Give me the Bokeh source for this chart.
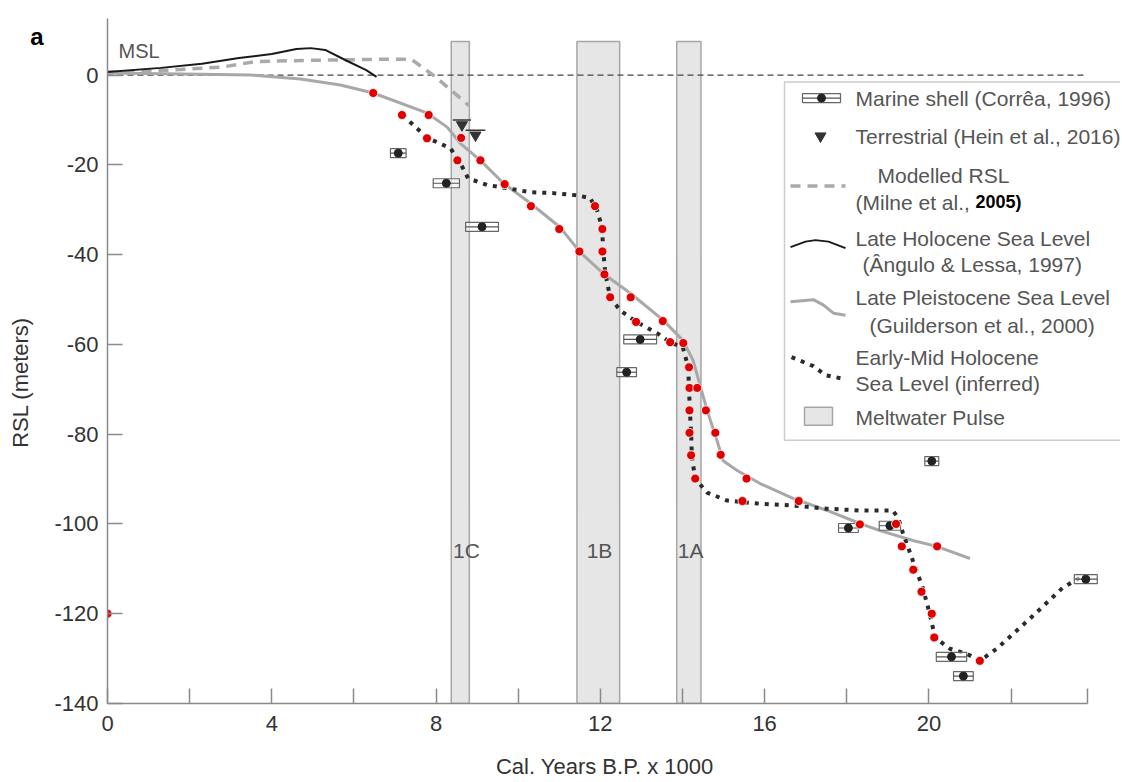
import math
from bokeh.plotting import figure
from bokeh.models import (Range1d, FixedTicker, Label, BoxAnnotation, CustomJSTickFormatter,
                          LinearAxis)
from bokeh.embed import file_html
from bokeh.resources import INLINE
from bokeh.core.properties import value

FONT = "Liberation Sans"
NBSP = "\u00a0"

# ---------------- data ----------------
x_ticks = [0, 4, 8, 12, 16, 20]
x_minor_ticks = [2, 6, 10, 14, 18, 22, 23.86]
y_ticks = [-140, -120, -100, -80, -60, -40, -20, 0]
X_AXIS_END = 23.86

pulse_names = ["1C", "1B", "1A"]
pulse_start = [8.37, 11.43, 13.86]
pulse_end = [8.81, 12.47, 14.45]
pulse_top = [7.5, 7.5, 7.5]
pulse_label_x = [8.74, 11.98, 14.2]
pulse_label_y = [-105.9, -105.9, -105.9]

late_holocene_x = [0.0, 1.3, 2.3, 3.2, 4.0, 4.6, 4.95, 5.3, 5.8, 6.3, 6.55]
late_holocene_y = [0.7, 1.6, 2.5, 3.8, 4.7, 5.8, 6.0, 5.6, 3.3, 1.1, -0.4]

modelled_x = [0.0, 1.5, 2.8, 3.6, 5.0, 6.5, 7.4, 8.0, 8.8]
modelled_y = [0.6, 1.1, 1.8, 3.0, 3.3, 3.5, 3.5, -0.5, -6.8]

pleist_x = [0.0, 2.26, 3.48, 4.70, 5.67, 6.47, 7.79, 8.27, 8.59, 9.08, 9.64, 10.29,
            11.02, 11.51, 12.07, 12.73, 13.53, 14.01, 14.26, 14.60, 14.84, 14.99,
            15.33, 15.89, 16.69, 17.52, 18.32, 18.81, 19.61, 20.19, 21.0]
pleist_y = [0.45, 0.2, 0.0, -0.9, -2.2, -4.0, -8.5, -11.6, -15.2, -19.0, -24.1, -28.5,
            -33.9, -39.5, -44.2, -48.6, -54.6, -59.1, -63.6, -74.7, -81.4, -85.9,
            -88.1, -91.0, -94.3, -97.0, -99.9, -101.5, -103.7, -105.0, -107.7]

inferred_x = [7.18, 7.79, 8.35, 8.59, 8.78, 9.25, 9.73, 10.29, 10.85, 11.44, 11.75,
              11.92, 12.04, 12.07, 12.12, 12.24, 12.48, 12.90, 13.38, 13.70, 14.01,
              14.14, 14.16, 14.18, 14.21, 14.23, 14.31, 14.60, 15.09, 15.89, 16.69,
              17.52, 18.32, 19.12, 19.25, 19.37, 19.61, 19.85, 20.02, 20.15, 20.51,
              20.92, 21.24, 21.65, 22.46, 23.26, 23.67]
inferred_y = [-8.9, -14.0, -16.3, -19.6, -23.0, -24.5, -25.2, -26.1, -26.3, -26.8, -27.4,
              -30.1, -33.9, -39.0, -44.2, -49.5, -52.4, -55.1, -57.5, -59.5, -60.7,
              -65.1, -70.2, -74.7, -79.8, -85.2, -89.9, -93.0, -94.8, -95.5, -95.9,
              -96.6, -97.0, -97.0, -98.6, -102.1, -108.2, -114.2, -120.0, -125.3, -127.8,
              -128.9, -130.5, -127.8, -121.1, -114.2, -112.0]

red_x = [0.0, 6.47, 7.17, 7.82, 7.78, 8.61, 8.52, 9.08, 9.67, 10.31, 11.00, 11.49,
         11.87, 12.05, 12.05, 12.10, 12.24, 12.74, 12.87, 13.52, 13.70, 14.02, 14.16,
         14.17, 14.36, 14.17, 14.57, 14.17, 14.80, 14.21, 14.93, 14.31, 15.56, 15.46,
         16.83, 18.32, 19.20, 20.20, 19.34, 19.62, 19.82, 20.07, 20.13, 21.24]
red_y = [-120.0, -4.0, -8.9, -8.9, -14.1, -14.0, -19.0, -19.0, -24.3, -29.2, -34.3, -39.3,
         -29.2, -34.3, -39.3, -44.4, -49.5, -49.5, -55.0, -54.8, -59.5, -59.7, -65.1,
         -69.7, -69.7, -74.7, -74.7, -79.7, -79.7, -84.7, -84.6, -89.9, -89.9, -94.9,
         -94.9, -100.1, -100.0, -105.0, -105.0, -110.2, -115.1, -120.0, -125.3, -130.5]

shell_x = [7.08, 8.25, 9.12, 12.97, 12.64, 18.04, 19.05, 20.07, 20.55, 20.84, 23.82]
shell_y = [-17.4, -24.1, -33.8, -58.9, -66.2, -100.9, -100.4, -86.0, -129.6, -133.9, -112.3]
shell_err = [0.19, 0.32, 0.40, 0.40, 0.24, 0.24, 0.26, 0.17, 0.37, 0.24, 0.28]

terr_x = [8.63, 8.96]
terr_y = [-11.1, -13.4]
terr_err = [0.22, 0.24]

legend_labels = ["Marine shell (Corrêa, 1996)", "Terrestrial (Hein et al., 2016)",
                 "Modelled RSL", "(Milne et al.,", "2005)",
                 "Late Holocene Sea Level", "(Ângulo & Lessa, 1997)",
                 "Late Pleistocene Sea Level", "(Guilderson et al., 2000)",
                 "Early-Mid Holocene", "Sea Level (inferred)", "Meltwater Pulse"]

# ---------------- layout helpers (page px -> data, for annotations only) ----------------
SX, SY = 41.07, 4.487
def dx(px):
    return (px - 107.0) / SX
def dy(py):
    return (75.0 - py) / SY

W, H = 1120, 782
p = figure(width=W, height=H, output_backend="svg", toolbar_location=None,
           x_range=Range1d(0, (W - 107) / SX), y_range=Range1d(-140, 12.6),
           min_border_left=107, min_border_right=0, min_border_top=18, min_border_bottom=79)
p.outline_line_color = None
p.grid.visible = False
p.background_fill_color = "white"
p.border_fill_color = "white"

fmt = CustomJSTickFormatter(code="return String(tick);")
for ax in (p.xaxis[0], p.yaxis[0]):
    ax.axis_line_color = "#8a8a8a"
    ax.axis_line_width = 1.5
    ax.major_tick_line_color = "#8a8a8a"
    ax.major_tick_line_width = 1.5
    ax.major_tick_in = 15
    ax.major_tick_out = 0
    ax.major_label_text_font = FONT
    ax.major_label_text_font_size = "22px"
    ax.major_label_text_color = "#333333"
    ax.formatter = fmt
    ax.axis_label_text_font = FONT
    ax.axis_label_text_font_size = "22px"
    ax.axis_label_text_font_style = "normal"
    ax.axis_label_text_color = "#333333"

p.xaxis.ticker = FixedTicker(ticks=x_ticks, minor_ticks=x_minor_ticks)
p.xaxis.bounds = (0, X_AXIS_END)
p.xaxis.minor_tick_line_color = "#8a8a8a"
p.xaxis.minor_tick_line_width = 1.5
p.xaxis.minor_tick_in = 15
p.xaxis.minor_tick_out = 0
p.xaxis.major_label_standoff = 12
p.xaxis.axis_label = "Cal. Years B.P. x 1000" + NBSP * 3
p.xaxis.axis_label_standoff = 20
p.yaxis.ticker = FixedTicker(ticks=y_ticks)
p.yaxis.minor_tick_line_color = None
p.yaxis.major_label_standoff = 9
p.yaxis.axis_label = "RSL (meters)" + NBSP * 7
p.yaxis.axis_label_standoff = 18

# panel label "a" as an extra, bare axis on the left
a_axis = LinearAxis(ticker=FixedTicker(ticks=[8.6]),
                    formatter=CustomJSTickFormatter(code="return 'a';"),
                    axis_line_color=None, major_tick_line_color=None, minor_tick_line_color=None,
                    major_label_text_font=FONT, major_label_text_font_size="24px",
                    major_label_text_font_style="bold", major_label_text_color="#000000",
                    major_label_standoff=-44)
p.add_layout(a_axis, "left")

# meltwater pulse bands
p.quad(left=pulse_start, right=pulse_end, top=pulse_top, bottom=[-140] * len(pulse_start),
       fill_color="#e6e6e6", line_color="#a6a6a6", line_width=1.5)
p.text(x=pulse_label_x, y=pulse_label_y, text=pulse_names, text_font=value(FONT),
       text_font_size="21px", text_color="#555555", text_align="center", text_baseline="middle")

# MSL
p.line(x=[0, X_AXIS_END], y=[0, 0], line_color="#444444", line_dash="6 4", line_width=1.3)

# curves
p.line(pleist_x, pleist_y, line_color="#a8a8a8", line_width=3)
p.line(modelled_x, modelled_y, line_color="#aaaaaa", line_width=3.5, line_dash="10 7")
p.line(late_holocene_x, late_holocene_y, line_color="#1a1a1a", line_width=2)
p.line(inferred_x, inferred_y, line_color="#2b2b2b", line_width=4, line_dash="4 6")

# marine shells
p.rect(x=shell_x, y=shell_y, width=[2 * e for e in shell_err], height=9, height_units="screen",
       fill_color="white", fill_alpha=0.6, line_color="#666666", line_width=1.2)
p.segment(x0=[x - e for x, e in zip(shell_x, shell_err)], y0=shell_y,
          x1=[x + e for x, e in zip(shell_x, shell_err)], y1=shell_y,
          line_color="#555555", line_width=1.2)
p.scatter(shell_x, shell_y, size=8, color="#222222")

# terrestrial
bar_off = 5 / SY
p.segment(x0=[x - e for x, e in zip(terr_x, terr_err)], y0=[y + bar_off for y in terr_y],
          x1=[x + e for x, e in zip(terr_x, terr_err)], y1=[y + bar_off for y in terr_y],
          line_color="#333333", line_width=1.5)
p.scatter(terr_x, terr_y, marker="inverted_triangle", size=11, color="#333333")

# red points
p.scatter(red_x, red_y, size=9, fill_color="#e00000", line_color="white", line_width=0.8)

# ---------------- legend (manual) ----------------
box = BoxAnnotation(left=dx(784), right=30, top=dy(82), bottom=dy(440),
                    fill_color="white", fill_alpha=1.0, line_color="#555555", line_width=1.5)
p.add_layout(box)

def ov(r):
    r.level = "overlay"
    return r

cx, hw = 821, 19
ov(p.rect(x=[dx(cx)], y=[dy(98)], width=[2 * hw / SX], height=9, height_units="screen",
          fill_color="white", line_color="#666666", line_width=1.2))
ov(p.segment(x0=[dx(cx - hw)], y0=[dy(98)], x1=[dx(cx + hw)], y1=[dy(98)],
             line_color="#555555", line_width=1.2))
ov(p.scatter([dx(cx)], [dy(98)], size=8, color="#222222"))
ov(p.scatter([dx(820)], [dy(136)], marker="inverted_triangle", size=11, color="#333333"))
ov(p.line([dx(790), dx(845)], [dy(186), dy(186)], line_color="#aaaaaa", line_width=3.5, line_dash="10 7"))
ov(p.line([dx(v) for v in (790, 805, 815, 828, 845)], [dy(v) for v in (247, 241.5, 240, 241.5, 248)],
          line_color="#1a1a1a", line_width=2))
ov(p.line([dx(v) for v in (790, 813, 823, 833, 845)], [dy(v) for v in (301.7, 299.5, 305, 313, 315)],
          line_color="#a8a8a8", line_width=3))
ov(p.line([dx(v) for v in (791, 813, 825, 840)], [dy(v) for v in (357, 366, 375, 378)],
          line_color="#2b2b2b", line_width=4, line_dash="4 6"))
ov(p.quad(left=[dx(804)], right=[dx(832)], top=[dy(407)], bottom=[dy(425)],
          fill_color="#e6e6e6", line_color="#a6a6a6", line_width=1.5))

leg_pos = [(855, 98), (855, 136), (877, 175), (855, 202), (975, 202),
           (855, 238), (862, 264), (855, 297), (869, 325), (855, 357), (855, 383), (855, 417)]
for txt, (lx, ly) in zip(legend_labels, leg_pos):
    bold = (txt == "2005)")
    lab = Label(x=dx(lx), y=dy(ly), text=txt, text_font=FONT,
                text_font_size="18px" if bold else "21px",
                text_font_style="bold" if bold else "normal",
                text_color="#000000" if bold else "#555555",
                text_align="left", text_baseline="middle", level="overlay")
    p.add_layout(lab)

p.add_layout(Label(x=dx(118), y=dy(51), text="MSL", text_font=FONT, text_font_size="20px",
                   text_color="#555555", text_align="left", text_baseline="middle"))

open("out.html", "w").write(file_html(p, INLINE))
